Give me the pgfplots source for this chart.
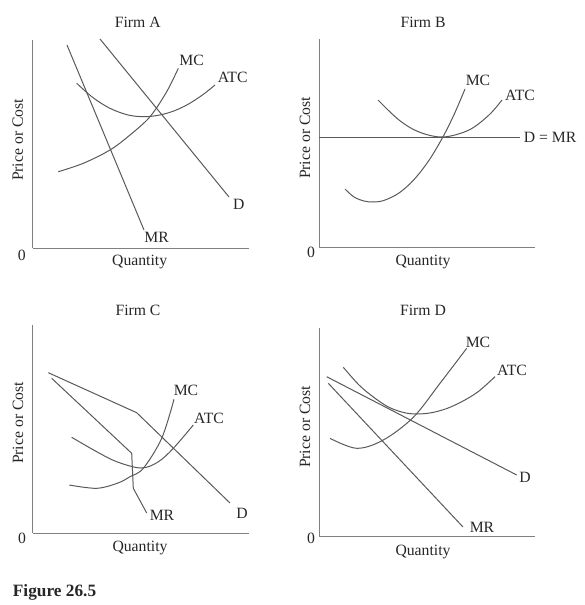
\documentclass[border=0pt]{standalone}
\usepackage{fontspec}
\setmainfont{Liberation Serif}
\usepackage{pgfplots}
\pgfplotsset{compat=1.18}
\pgfplotsset{panel/.style={
  x=1pt,y=1pt, xmin=0,xmax=216,ymin=0,ymax=208,
  axis lines=left, axis line style={-, draw=black!50, line width=1pt},
  xtick=\empty, ytick=\empty, clip=false, anchor=south west,
}}
\tikzset{
  lab/.style={font=\fontsize{15.7}{18}\selectfont, text=black!85, inner sep=0pt},
  curve/.style={draw=black!65, line width=1pt, mark=none},
  sc/.style={curve, smooth, tension=0.55},
}
\begin{document}
\begin{tikzpicture}
\useasboundingbox (0,0) rectangle (585pt,-605pt);
% ---------------- Firm A ----------------
\begin{axis}[panel, at={(32.7pt,-248pt)}]
\addplot[curve] coordinates {(34.3,203) (111.3,18)};
\addplot[curve] coordinates {(67.3,209) (196.3,51)};
\addplot[sc] coordinates {(25.6,76.3) (50.6,84.7) (77.3,98) (97.3,113) (117.3,131.3) (134,156.3) (145.6,179.7)};
\addplot[sc] coordinates {(44,164.7) (60,150.6) (77,139.8) (95,133.1) (110.6,131.3) (125,132.6) (140,136.6) (155,143.5) (170,153.2) (182.3,163)};
\node[lab] at (axis cs:105,226) {Firm A};
\node[lab] at (axis cs:-11,-7) {0};
\node[lab] at (axis cs:107,-14) {Quantity};
\node[lab, rotate=90] at (axis cs:-15,108) {Price or Cost};
\node[lab] at (axis cs:124,11) {MR};
\node[lab] at (axis cs:206,44) {D};
\node[lab] at (axis cs:159,188) {MC};
\node[lab] at (axis cs:200,171) {ATC};
\end{axis}
% ---------------- Firm B ----------------
\begin{axis}[panel, at={(319pt,-247pt)}]
\addplot[curve] coordinates {(0,110) (201,110)};
\addplot[sc] coordinates {(59,147) (80,127) (100,115) (124,110) (150,117) (170,132) (183,147)};
\addplot[sc] coordinates {(26,58) (35,50) (45,46) (54,45) (65,46.6) (80,54) (95,67.4) (110,86.7) (124,110.2) (135,132.3) (146,158)};
\node[lab] at (axis cs:104,225) {Firm B};
\node[lab] at (axis cs:-8,-5) {0};
\node[lab] at (axis cs:104,-15) {Quantity};
\node[lab, rotate=90] at (axis cs:-14,109) {Price or Cost};
\node[lab] at (axis cs:159,167) {MC};
\node[lab] at (axis cs:201,152) {ATC};
\node[lab] at (axis cs:231,110) {D = MR};
\end{axis}
% ---------------- Firm C ----------------
\begin{axis}[panel, at={(33pt,-533pt)}]
\addplot[curve] coordinates {(15.3,160.3) (103.7,120.3) (197,30)};
\addplot[curve] coordinates {(18.7,154.7) (98.7,79.7) (100.3,44.7) (113.7,20)};
\addplot[sc] coordinates {(38.7,95.7) (63.7,81.3) (83.7,71.3) (108,65) (125,71) (140.3,84.7) (160.3,108)};
\addplot[sc] coordinates {(36.3,48) (63.7,44.7) (85,50) (97,56.3) (110.3,64.7) (128.7,94.7) (141,133.7)};
\node[lab] at (axis cs:105,223) {Firm C};
\node[lab] at (axis cs:-11,-5) {0};
\node[lab] at (axis cs:107,-15) {Quantity};
\node[lab, rotate=90] at (axis cs:-15,110) {Price or Cost};
\node[lab] at (axis cs:153,143) {MC};
\node[lab] at (axis cs:176,115) {ATC};
\node[lab] at (axis cs:129,18) {MR};
\node[lab] at (axis cs:209,20) {D};
\end{axis}
% ---------------- Firm D ----------------
\begin{axis}[panel, at={(319pt,-536pt)}]
\addplot[curve] coordinates {(7.7,159.3) (197.7,61)};
\addplot[curve] coordinates {(9.3,152.7) (144,9)};
\addplot[sc] coordinates {(24.3,168.7) (40,151) (55,138.5) (70,128.7) (85,123.4) (97.7,122) (112,123.2) (127,127.2) (142,133.9) (159,144.2) (176,159.3)};
\addplot[sc] coordinates {(11,97.7) (37.7,87.7) (64.3,96) (94.3,118.7) (121,152.7) (147.7,187.7)};
\node[lab] at (axis cs:104,226) {Firm D};
\node[lab] at (axis cs:-8,-2) {0};
\node[lab] at (axis cs:104,-16) {Quantity};
\node[lab, rotate=90] at (axis cs:-14,109) {Price or Cost};
\node[lab] at (axis cs:159,194) {MC};
\node[lab] at (axis cs:193,166) {ATC};
\node[lab] at (axis cs:206,59) {D};
\node[lab] at (axis cs:163,9) {MR};
\end{axis}
\node[anchor=base west, inner sep=0pt, font=\fontsize{17.3}{20}\selectfont\bfseries, text=black!85] at (12.7pt,-596pt) {Figure 26.5};
\end{tikzpicture}
\end{document}
